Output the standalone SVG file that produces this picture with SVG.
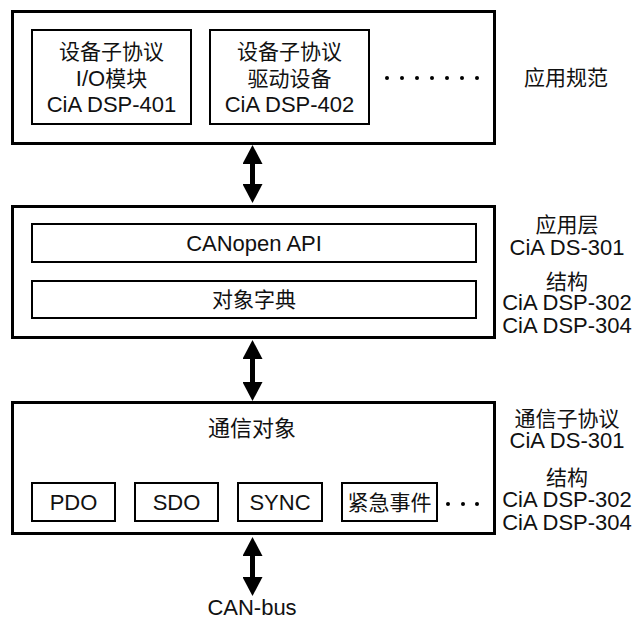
<svg xmlns="http://www.w3.org/2000/svg" width="633" height="619" viewBox="0 0 633 619">
<style>
.outer{fill:#fff;stroke:#000;stroke-width:3}
.inner{fill:#fff;stroke:#000;stroke-width:2}
text{font-family:"Liberation Sans","Noto Sans CJK SC",Arial,sans-serif;font-size:21px;fill:#111;text-anchor:middle}
.lat{font-size:22px}
.big{font-size:22px}
.conn{stroke:#000;stroke-width:5;fill:none;marker-start:url(#head);marker-end:url(#head)}
</style>
<defs>
<marker id="head" markerUnits="userSpaceOnUse" markerWidth="19" markerHeight="20" viewBox="0 0 19 20" refX="0" refY="10" orient="auto-start-reverse">
<path d="M0,0 L19,10 L0,20 z" fill="#000"/>
</marker>
</defs>
<rect width="633" height="619" fill="#fff"/>

<g id="app-profile">
<rect class="outer" x="12.5" y="11.5" width="482" height="132"/>
<g id="dev-401">
<rect class="inner" x="32" y="30" width="159" height="94"/>
<text x="111.5" y="59">设备子协议</text>
<text x="111.5" y="86"><tspan class="lat">I/O</tspan>模块</text>
<text class="lat" x="111.5" y="112">CiA DSP-401</text>
</g>
<g id="dev-402">
<rect class="inner" x="210" y="30" width="159" height="94"/>
<text x="289.5" y="59">设备子协议</text>
<text x="289.5" y="86">驱动设备</text>
<text class="lat" x="289.5" y="112">CiA DSP-402</text>
</g>
<g id="dots-top" fill="#000">
<circle cx="387" cy="78" r="2"/><circle cx="402" cy="78" r="2"/><circle cx="417" cy="78" r="2"/><circle cx="432" cy="78" r="2"/><circle cx="447" cy="78" r="2"/><circle cx="462" cy="78" r="2"/><circle cx="477" cy="78" r="2"/>
</g>
</g>
<g id="label-app"><text x="566" y="85">应用规范</text></g>

<g id="app-layer">
<rect class="outer" x="12.5" y="206.5" width="482" height="131"/>
<g id="canopen-api">
<rect class="inner" x="32" y="224" width="444" height="38"/>
<text class="lat" x="254" y="251">CANopen API</text>
</g>
<g id="obj-dict">
<rect class="inner" x="32" y="281" width="444" height="37"/>
<text x="254" y="307">对象字典</text>
</g>
</g>
<g id="label-layer">
<text x="567" y="232">应用层</text>
<text class="lat" x="567" y="255">CiA DS-301</text>
<text x="567" y="289">结构</text>
<text class="lat" x="567" y="310">CiA DSP-302</text>
<text class="lat" x="567" y="333">CiA DSP-304</text>
</g>

<g id="comm-objects">
<rect class="outer" x="12.5" y="402.5" width="482" height="131"/>
<text class="big" x="252" y="436">通信对象</text>
<g id="pdo"><rect class="inner" x="32" y="483" width="83" height="38"/><text class="lat" x="73.5" y="510">PDO</text></g>
<g id="sdo"><rect class="inner" x="135" y="483" width="83" height="38"/><text class="lat" x="176.5" y="510">SDO</text></g>
<g id="sync"><rect class="inner" x="238" y="483" width="84" height="38"/><text class="lat" x="280" y="510">SYNC</text></g>
<g id="emcy"><rect class="inner" x="342" y="483" width="95" height="38"/><text x="389.5" y="510">紧急事件</text></g>
<g id="dots-bottom" fill="#000">
<circle cx="448" cy="504" r="2"/><circle cx="463" cy="504" r="2"/><circle cx="477" cy="504" r="2"/>
</g>
</g>
<g id="label-comm">
<text x="567" y="426">通信子协议</text>
<text class="lat" x="567" y="448">CiA DS-301</text>
<text x="567" y="485">结构</text>
<text class="lat" x="567" y="507">CiA DSP-302</text>
<text class="lat" x="567" y="530">CiA DSP-304</text>
</g>

<g id="connectors">
<line class="conn" x1="252.5" y1="164" x2="252.5" y2="184"/>
<line class="conn" x1="252.5" y1="359" x2="252.5" y2="382"/>
<line class="conn" x1="252.5" y1="556" x2="252.5" y2="577"/>
</g>
<g id="can-bus"><text class="lat" x="252" y="615">CAN-bus</text></g>
</svg>
